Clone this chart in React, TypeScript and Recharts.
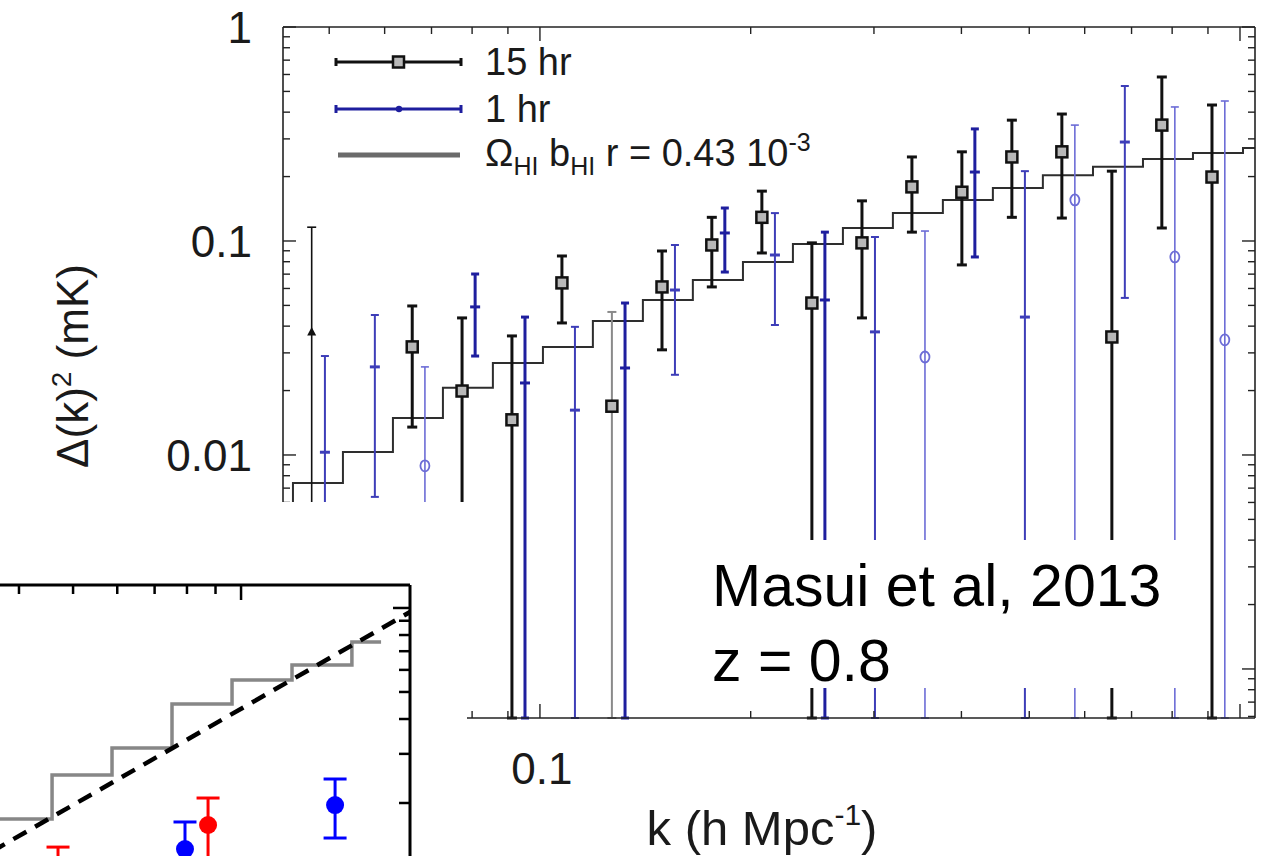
import React from 'react';
import { ComposedChart, Line, Scatter, XAxis, YAxis, ErrorBar, Legend } from 'recharts';

const FONT = '"Liberation Sans", Arial, Helvetica, sans-serif';
const INK = '#1a1a1a';
const AXIS = '#222';

// ---- main panel: cross-power Δ(k)² versus k ----
const X_MIN = 0.04295;
const X_MAX = 1.0506;
const Y_MIN = 0.00059;
const Y_MAX = 1;

const xTicks = [0.05, 0.06, 0.07, 0.08, 0.09, 0.1, 0.2, 0.3, 0.4, 0.5, 0.6, 0.7, 0.8, 0.9, 1];
const xMajor = [0.1, 1];
const xLabelled = [0.1];
const yTicks = [
  0.0006, 0.0007, 0.0008, 0.0009, 0.001, 0.002, 0.003, 0.004, 0.005, 0.006, 0.007, 0.008, 0.009,
  0.01, 0.02, 0.03, 0.04, 0.05, 0.06, 0.07, 0.08, 0.09, 0.1, 0.2, 0.3, 0.4, 0.5, 0.6, 0.7, 0.8, 0.9, 1,
];
const yMajor = [0.001, 0.01, 0.1, 1];
const yLabelled = [0.01, 0.1, 1];

// 15 hr field (null lower bound = error bar runs off the bottom of the plot)
const k15 = [0.0472, 0.0657, 0.0774, 0.0912, 0.1075, 0.1267, 0.1494, 0.176, 0.2075, 0.2446, 0.2884, 0.3399, 0.4006, 0.4722, 0.5566, 0.6561, 0.7733, 0.912];
const val15 = [0.0376, 0.032, 0.0199, 0.0146, 0.0637, 0.0169, 0.061, 0.0958, 0.129, 0.0513, 0.098, 0.179, 0.169, 0.247, 0.261, 0.0356, 0.348, 0.199];
const hi15 = [0.116, 0.0497, 0.0437, 0.036, 0.0851, 0.0466, 0.0898, 0.129, 0.171, 0.098, 0.154, 0.247, 0.261, 0.367, 0.392, 0.212, 0.584, 0.432];
const lo15: (number | null)[] = [null, 0.0135, null, null, 0.0414, null, 0.031, 0.061, 0.0879, null, 0.0437, 0.11, 0.0773, 0.129, 0.128, null, 0.115, null];
const style15 = ['thin', 'bold', 'bold', 'bold', 'bold', 'gray', 'bold', 'bold', 'bold', 'bold', 'bold', 'bold', 'bold', 'bold', 'bold', 'bold', 'bold', 'bold'];

// 1 hr field ('circle' marks the negative-valued bins)
const k1 = [0.0493, 0.0581, 0.0685, 0.0808, 0.0952, 0.1122, 0.1323, 0.1559, 0.1837, 0.2166, 0.2553, 0.301, 0.3548, 0.4181, 0.4929, 0.5809, 0.6847, 0.8071, 0.9513];
const val1 = [0.0103, 0.0258, 0.0089, 0.0492, 0.0217, 0.0162, 0.0255, 0.059, 0.109, 0.086, 0.053, 0.0376, 0.0287, 0.21, 0.0441, 0.1555, 0.29, 0.0842, 0.0345];
const hi1 = [0.029, 0.0451, 0.0258, 0.0701, 0.0441, 0.0397, 0.0513, 0.0958, 0.1426, 0.135, 0.11, 0.1044, 0.1113, 0.334, 0.212, 0.348, 0.53, 0.423, 0.451];
const lo1: (number | null)[] = [null, 0.00637, null, 0.029, null, null, null, 0.0237, 0.0716, 0.0405, null, null, null, 0.0842, null, null, 0.0542, null, null];
const style1 = ['thin', 'thin', 'circle', 'bold', 'bold', 'thin', 'bold', 'thin', 'bold', 'thin', 'bold', 'thin', 'circle', 'bold', 'thin', 'circle', 'thin', 'circle', 'circle'];

// model Ω_HI b_HI r = 0.43e-3, binned (bin left edges and levels)
const modelK = [0.04295, 0.04438, 0.05231, 0.06166, 0.07268, 0.08566, 0.10099, 0.11902, 0.1403, 0.16536, 0.19498, 0.22981, 0.27089, 0.31929, 0.37634, 0.44361, 0.52289, 0.6166, 0.72679, 0.85668, 1.00993, 1.0506];
const modelV = [0.005, 0.0074, 0.01033, 0.0149, 0.0206, 0.0269, 0.032, 0.0423, 0.053, 0.0658, 0.0798, 0.0968, 0.115, 0.135, 0.1555, 0.177, 0.203, 0.222, 0.2415, 0.2576, 0.272, 0.272];

// ---- small panel ----
const IX_MIN = 0.03268;
const IX_MAX = 0.2008;
const IY_MIN = 0.008982;
const IY_MAX = 0.12088;
const ixTicks = [0.04, 0.05, 0.06, 0.07, 0.08, 0.09, 0.1];
const iyTicks = [0.02, 0.03, 0.04, 0.05, 0.06, 0.07, 0.08, 0.09, 0.1];
const insetStepK = [0.03268, 0.04585, 0.05872, 0.07521, 0.09635, 0.1234, 0.158, 0.1782];
const insetStepV = [0.01754, 0.0252, 0.03149, 0.04529, 0.05521, 0.06248, 0.07551, 0.07551];
const insetTrendK = [0.03268, 0.2008];
const insetTrendV = [0.01209, 0.0967];
const redK = [0.04699, 0.08727];
const redV = [0.0115, 0.01668];
const redLo = [0.0095, 0.012];
const redHi = [0.0139, 0.02084];
const blueK = [0.07935, 0.1474];
const blueV = [0.01368, 0.01967];
const blueLo = [0.0105, 0.01498];
const blueHi = [0.0171, 0.02438];

type Row = { k: number; v: number; err: [number, number]; s: string };

function buildRows(ks: number[], vs: number[], los: (number | null)[], his: number[], styles: string[]): Row[] {
  return ks.map((k, i) => ({
    k,
    v: vs[i],
    err: [vs[i] - (los[i] ?? Y_MIN), his[i] - vs[i]] as [number, number],
    s: styles[i],
  }));
}

const rows15 = buildRows(k15, val15, lo15, hi15, style15);
const rows1 = buildRows(k1, val1, lo1, hi1, style1);
const pick = (rows: Row[], s: string) => rows.filter((r) => r.s === s);

const modelRows = modelK.map((k, i) => ({ k, v: modelV[i] }));
const insetStepRows = insetStepK.map((k, i) => ({ k, v: insetStepV[i] }));
const insetTrendRows = insetTrendK.map((k, i) => ({ k, v: insetTrendV[i] }));
const pointRows = (ks: number[], vs: number[], lo: number[], hi: number[]) =>
  ks.map((k, i) => ({ k, v: vs[i], err: [vs[i] - lo[i], hi[i] - vs[i]] }));
const redRows = pointRows(redK, redV, redLo, redHi);
const blueRows = pointRows(blueK, blueV, blueLo, blueHi);

const near = (list: number[], v: number) => list.some((m) => Math.abs(m - v) <= m * 1e-6);
const fmt = (v: number) => String(v);

type Side = 'left' | 'right' | 'top' | 'bottom';

function tickMaker(
  side: Side,
  majors: number[],
  labelled: number[],
  majorLen: number,
  minorLen: number,
  color: string,
  width: number,
  fontSize = 44,
) {
  return function TickMark(props: any) {
    const x = Number(props.x);
    const y = Number(props.y);
    const v = Number(props.payload?.value);
    const len = near(majors, v) ? majorLen : minorLen;
    let x2 = x;
    let y2 = y;
    if (side === 'left') x2 = x + len;
    if (side === 'right') x2 = x - len;
    if (side === 'top') y2 = y + len;
    if (side === 'bottom') y2 = y - len;
    const showLabel = near(labelled, v);
    return (
      <g>
        <line x1={x} y1={y} x2={x2} y2={y2} stroke={color} strokeWidth={width} />
        {showLabel && side === 'left' && (
          <text x={x - 31} y={y} dy="0.36em" textAnchor="end" fontSize={fontSize} fontFamily={FONT} fill={INK}>
            {fmt(v)}
          </text>
        )}
        {showLabel && side === 'bottom' && (
          <text x={x + 2} y={y + 66} textAnchor="middle" fontSize={fontSize} fontFamily={FONT} fill={INK}>
            {fmt(v)}
          </text>
        )}
      </g>
    );
  };
}

const SquareMark = (p: any) => (
  <rect x={p.cx - 5.5} y={p.cy - 5.5} width={11} height={11} fill="#b8b8b8" stroke="#111" strokeWidth={2.5} />
);
const TriangleMark = (p: any) => (
  <path d={`M${p.cx},${p.cy - 5} L${p.cx + 4.5},${p.cy + 3.5} L${p.cx - 4.5},${p.cy + 3.5} Z`} fill="#111" />
);
const dashMark = (color: string) => (p: any) => (
  <line x1={p.cx - 5} y1={p.cy} x2={p.cx + 5} y2={p.cy} stroke={color} strokeWidth={3} />
);
const RingMark = (p: any) => (
  <ellipse cx={p.cx} cy={p.cy} rx={4.5} ry={5.5} fill="#fff" fillOpacity={0} stroke="#6c6cd6" strokeWidth={1.8} />
);
const dotMark = (color: string) => (p: any) => <circle cx={p.cx} cy={p.cy} r={9} fill={color} />;

const BLUE_BOLD = '#1e1e9e';
const BLUE_THIN = '#3d3db8';
const BLUE_RING = '#6c6cd6';

const LEGEND_ORDER = ['15 hr', '1 hr', 'model'];

function LegendIcon({ name }: { name: string }) {
  if (name === '15 hr') {
    return (
      <svg width={140} height={46}>
        <line x1={2} y1={23} x2={129} y2={23} stroke="#111" strokeWidth={3} />
        <line x1={3} y1={19} x2={3} y2={27} stroke="#111" strokeWidth={3} />
        <line x1={128} y1={19} x2={128} y2={27} stroke="#111" strokeWidth={3} />
        <rect x={60} y={17.5} width={11} height={11} fill="#b8b8b8" stroke="#111" strokeWidth={2.5} />
      </svg>
    );
  }
  if (name === '1 hr') {
    return (
      <svg width={140} height={46}>
        <line x1={2} y1={23} x2={129} y2={23} stroke={BLUE_BOLD} strokeWidth={3} />
        <line x1={3} y1={19} x2={3} y2={27} stroke={BLUE_BOLD} strokeWidth={3} />
        <line x1={128} y1={19} x2={128} y2={27} stroke={BLUE_BOLD} strokeWidth={3} />
        <circle cx={66} cy={23} r={3.2} fill={BLUE_BOLD} />
      </svg>
    );
  }
  return (
    <svg width={140} height={46}>
      <line x1={5} y1={23} x2={127} y2={23} stroke="#6b6b6b" strokeWidth={5} />
    </svg>
  );
}

function LegendLabel({ name }: { name: string }) {
  if (name !== 'model') return <>{name}</>;
  const sub = { fontSize: 25, position: 'relative' as const, top: 9 };
  const sup = { fontSize: 25, position: 'relative' as const, top: -15 };
  return (
    <>
      Ω<span style={sub}>HI</span> b<span style={sub}>HI</span> r = 0.43 10<span style={sup}>-3</span>
    </>
  );
}

function LegendBox(props: any) {
  const items = [...(props.payload ?? [])]
    .filter((it: any) => LEGEND_ORDER.includes(it.value))
    .sort((a: any, b: any) => LEGEND_ORDER.indexOf(a.value) - LEGEND_ORDER.indexOf(b.value));
  return (
    <div style={{ position: 'relative', width: 560, height: 140, fontFamily: FONT }}>
      {items.map((it: any, i: number) => (
        <div
          key={it.value}
          style={{ position: 'absolute', left: 0, top: i * 46.5, height: 46, width: 560, display: 'flex', alignItems: 'center' }}
        >
          <LegendIcon name={it.value} />
          <span style={{ marginLeft: 12, fontSize: 38, color: INK, whiteSpace: 'nowrap', lineHeight: '46px' }}>
            <LegendLabel name={it.value} />
          </span>
        </div>
      ))}
    </div>
  );
}

function MainPanel() {
  return (
    <ComposedChart width={1272} height={856} margin={{ top: 26, right: 16, bottom: 78, left: 223 }}>
      <XAxis
        xAxisId="b"
        type="number"
        dataKey="k"
        scale="log"
        domain={[X_MIN, X_MAX]}
        allowDataOverflow
        ticks={xTicks}
        interval={0}
        height={60}
        tickSize={0}
        tickMargin={0}
        tickLine={false}
        axisLine={{ stroke: AXIS, strokeWidth: 1.6 }}
        tick={tickMaker('bottom', xMajor, xLabelled, 14, 7, AXIS, 1.4)}
      />
      <XAxis
        xAxisId="t"
        orientation="top"
        type="number"
        dataKey="k"
        scale="log"
        domain={[X_MIN, X_MAX]}
        allowDataOverflow
        ticks={xTicks}
        interval={0}
        height={1}
        tickSize={0}
        tickMargin={0}
        tickLine={false}
        axisLine={{ stroke: AXIS, strokeWidth: 1.6 }}
        tick={tickMaker('top', xMajor, [], 14, 7, AXIS, 1.4)}
      />
      <YAxis
        yAxisId="l"
        type="number"
        scale="log"
        domain={[Y_MIN, Y_MAX]}
        allowDataOverflow
        ticks={yTicks}
        interval={0}
        width={60}
        tickSize={0}
        tickMargin={0}
        tickLine={false}
        axisLine={{ stroke: AXIS, strokeWidth: 1.6 }}
        tick={tickMaker('left', yMajor, yLabelled, 13, 7, AXIS, 1.4)}
      />
      <YAxis
        yAxisId="r"
        orientation="right"
        type="number"
        scale="log"
        domain={[Y_MIN, Y_MAX]}
        allowDataOverflow
        ticks={yTicks}
        interval={0}
        width={1}
        tickSize={0}
        tickMargin={0}
        tickLine={false}
        axisLine={{ stroke: AXIS, strokeWidth: 1.6 }}
        tick={tickMaker('right', yMajor, [], 13, 7, AXIS, 1.4)}
      />
      <Legend
        content={<LegendBox />}
        layout="horizontal"
        verticalAlign="middle"
        align="center"
        wrapperStyle={{ position: 'absolute', left: 333, top: 39, width: 560, height: 140 }}
      />
      <Line
        xAxisId="b"
        yAxisId="l"
        data={modelRows}
        dataKey="v"
        name="model"
        type="stepAfter"
        stroke="#2e2e2e"
        strokeWidth={2}
        dot={false}
        activeDot={false}
        isAnimationActive={false}
      />
      <Scatter xAxisId="b" yAxisId="l" data={pick(rows1, 'circle')} dataKey="v" legendType="none" shape={RingMark} isAnimationActive={false}>
        <ErrorBar dataKey="err" direction="y" width={4} stroke={BLUE_RING} strokeWidth={1.6} />
      </Scatter>
      <Scatter xAxisId="b" yAxisId="l" data={pick(rows1, 'thin')} dataKey="v" legendType="none" shape={dashMark(BLUE_THIN)} isAnimationActive={false}>
        <ErrorBar dataKey="err" direction="y" width={4} stroke={BLUE_THIN} strokeWidth={2} />
      </Scatter>
      <Scatter xAxisId="b" yAxisId="l" data={pick(rows1, 'bold')} dataKey="v" name="1 hr" fill={BLUE_BOLD} shape={dashMark(BLUE_BOLD)} isAnimationActive={false}>
        <ErrorBar dataKey="err" direction="y" width={4} stroke={BLUE_BOLD} strokeWidth={3} />
      </Scatter>
      <Scatter xAxisId="b" yAxisId="l" data={pick(rows15, 'thin')} dataKey="v" legendType="none" shape={TriangleMark} isAnimationActive={false}>
        <ErrorBar dataKey="err" direction="y" width={4.5} stroke="#111" strokeWidth={1.6} />
      </Scatter>
      <Scatter xAxisId="b" yAxisId="l" data={pick(rows15, 'gray')} dataKey="v" legendType="none" shape={SquareMark} isAnimationActive={false}>
        <ErrorBar dataKey="err" direction="y" width={4.5} stroke="#8a8a8a" strokeWidth={2} />
      </Scatter>
      <Scatter xAxisId="b" yAxisId="l" data={pick(rows15, 'bold')} dataKey="v" name="15 hr" fill="#111" shape={SquareMark} isAnimationActive={false}>
        <ErrorBar dataKey="err" direction="y" width={5} stroke="#111" strokeWidth={3} />
      </Scatter>
    </ComposedChart>
  );
}

function InsetPanel() {
  return (
    <ComposedChart width={540} height={400} margin={{ top: 24, right: 29, bottom: 60, left: 70 }}>
      <XAxis
        xAxisId="t"
        orientation="top"
        type="number"
        dataKey="k"
        scale="log"
        domain={[IX_MIN, IX_MAX]}
        allowDataOverflow
        ticks={ixTicks}
        interval={0}
        height={1}
        tickSize={0}
        tickMargin={0}
        tickLine={false}
        axisLine={{ stroke: '#000', strokeWidth: 3 }}
        tick={tickMaker('top', [0.1], [], 15, 9, '#000', 2.5)}
      />
      <YAxis
        yAxisId="r"
        orientation="right"
        type="number"
        scale="log"
        domain={[IY_MIN, IY_MAX]}
        allowDataOverflow
        ticks={iyTicks}
        interval={0}
        width={1}
        tickSize={0}
        tickMargin={0}
        tickLine={false}
        axisLine={{ stroke: '#000', strokeWidth: 3 }}
        tick={tickMaker('right', [0.1], [], 17, 11, '#000', 2.5)}
      />
      <Line
        xAxisId="t"
        yAxisId="r"
        data={insetStepRows}
        dataKey="v"
        type="stepAfter"
        stroke="#878787"
        strokeWidth={3.5}
        dot={false}
        activeDot={false}
        isAnimationActive={false}
      />
      <Line
        xAxisId="t"
        yAxisId="r"
        data={insetTrendRows}
        dataKey="v"
        type="linear"
        stroke="#000"
        strokeWidth={4.5}
        strokeDasharray="15 10"
        dot={false}
        activeDot={false}
        isAnimationActive={false}
      />
      <Scatter xAxisId="t" yAxisId="r" data={redRows} dataKey="v" shape={dotMark('#ff0000')} isAnimationActive={false}>
        <ErrorBar dataKey="err" direction="y" width={11.5} stroke="#ff0000" strokeWidth={3} />
      </Scatter>
      <Scatter xAxisId="t" yAxisId="r" data={blueRows} dataKey="v" shape={dotMark('#0000ff')} isAnimationActive={false}>
        <ErrorBar dataKey="err" direction="y" width={11.5} stroke="#0000ff" strokeWidth={3} />
      </Scatter>
    </ComposedChart>
  );
}

export default function App() {
  return (
    <div style={{ position: 'absolute', left: 0, top: 0, width: 1272, height: 856, overflow: 'hidden', background: '#fff', fontFamily: FONT }}>
      <div style={{ position: 'absolute', left: 0, top: 0 }}>
        <MainPanel />
      </div>
      {/* the lower-left corner of the main panel is covered by the small panel */}
      <div style={{ position: 'absolute', left: 0, top: 502, width: 467, height: 354, background: '#fff' }} />
      <div style={{ position: 'absolute', left: -100, top: 560 }}>
        <InsetPanel />
      </div>
      <svg style={{ position: 'absolute', left: 700, top: 540 }} width={495} height={148}>
        <rect x={0} y={0} width={495} height={148} fill="#fff" />
        <text x={12} y={66} fontSize={59} fontFamily={FONT} fill="#000">
          Masui et al, 2013
        </text>
        <text x={12} y={141} fontSize={59} fontFamily={FONT} fill="#000">
          z = 0.8
        </text>
      </svg>
      <svg style={{ position: 'absolute', left: 0, top: 0, pointerEvents: 'none' }} width={1272} height={856}>
        <text transform="translate(88,366) rotate(-90)" textAnchor="middle" fontSize={44} fontFamily={FONT} fill={INK}>
          Δ(k)<tspan dy={-17} fontSize={28}>2</tspan>
          <tspan dy={17}> (mK)</tspan>
        </text>
        <text x={762} y={845} textAnchor="middle" fontSize={49} fontFamily={FONT} fill={INK}>
          k (h Mpc<tspan dy={-20} fontSize={30}>-1</tspan>
          <tspan dy={20}>)</tspan>
        </text>
      </svg>
    </div>
  );
}
